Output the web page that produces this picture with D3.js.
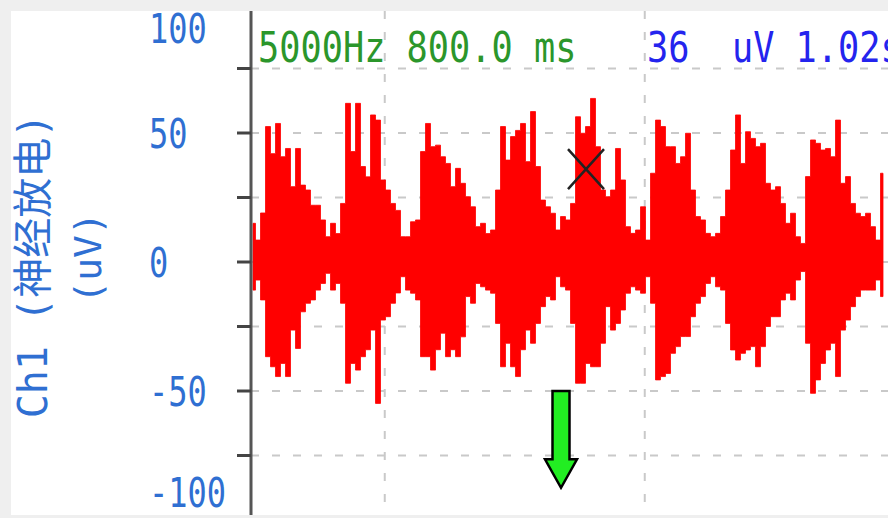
<!DOCTYPE html>
<html>
<head>
<meta charset="utf-8">
<script src="https://cdn.jsdelivr.net/npm/d3@7"></script>
<style>
  html, body { margin: 0; padding: 0; background: #efefef; }
  svg { display: block; }
</style>
</head>
<body>
<div id="chart"></div>
<script>
// ── Data (uV), one upper/lower envelope value per 4 ms ──
const upper = [
  15, 8.5, 19, 52.5, 42, 53.7, 40.8, 44, 29.2, 44, 29.8, 27.9, 22, 22, 16.3, 9.8,
  15, 11, 22.7, 61.5, 42.8, 61.5, 37, 33, 57, 55, 31.8, 27.9, 22.7, 20, 9.8, 9.8,
  15.6, 16.3, 42.8, 53.7, 44.7, 45.3, 40.8, 38.2, 29.2, 36.3, 30.5, 25.3, 21.4, 13.7, 15, 11,
  12.4, 27.9, 52.5, 39.5, 48.6, 51, 53.7, 38.9, 58.3, 37, 24, 21.4, 18.9, 12.4, 17.6,
  16.3, 22.7, 56.3, 49.9, 52.5, 63.4, 44.7, 27.9, 25.3, 27.9, 44, 31.8, 13.7, 11.1, 12.4, 21.4,
  8.5, 34.4, 55, 52.5, 44.7, 44.7, 38.2, 40.8, 49.9, 27.9, 17.6, 16.3, 11.1, 9.8, 11.1, 17.6,
  27.9, 43.4, 57, 38.2, 50.5, 47.9, 44.7, 46, 30.5, 27.9, 29.2, 22.7, 15, 18.9, 9.8, 7.2,
  33.1, 47.3, 46, 43.4, 44, 40.8, 55, 30.5, 33.1, 22.7, 18.9, 17.6, 18.9, 13.7, 8.5, 34.4
];
const lower = [
  -10.9, -7, -14.7, -36.7, -40.6, -44.4, -39.3, -44.4, -26.4, -33.5, -19.3, -16, -14.7, -10.9, -8.3, -4.4,
  -10.9, -8.3, -16, -47, -39.3, -41.9, -36.7, -34, -26.4, -54.8, -22.5, -21.2, -16, -12, -5.7, -10.9,
  -12.1, -14.7, -36.7, -36.7, -41.9, -34, -27.6, -36.7, -34, -36.7, -29, -13.4, -16, -8.3, -9.6, -10.9,
  -12.1, -23.8, -40.6, -31.5, -40.6, -44.4, -34, -26.4, -31.5, -23.8, -17.3, -13.4, -14.7, -5.7, -9.6,
  -10.9, -23.8, -47, -47, -39.3, -40.6, -40.6, -31.5, -17.3, -26.4, -23.8, -18.6, -12.1, -9.6, -10.9, -12.1,
  -5.7, -16, -45.7, -44.4, -43.2, -35.4, -32.8, -28.9, -28.9, -21.2, -16, -13.4, -8.3, -5.7, -9.6, -10.9,
  -23.8, -34.1, -38, -35.4, -34.1, -32.8, -40.6, -32.8, -25, -21.2, -21.2, -14.7, -12.1, -14.7, -7, -3.7,
  -31.5, -50.9, -45.7, -39.3, -34.1, -31.5, -44.4, -26.4, -22.5, -17.3, -13.4, -10.9, -10.9, -10.9, -7, -13.4
];
const tStart = 0.7516;       // s, first sample
const tStep  = 0.004;        // s between samples
const timeDomain = [0.75, 1.26];
const gridTimes  = [0.857, 1.065];
const yTicks     = [-100, -75, -50, -25, 0, 25, 50, 75, 100];
const yGridVals  = [-75, -50, -25, 0, 25, 50, 75];
const yLabelVals = [100, 50, 0, -50, -100];
const cursor     = { t: 1.018, v: 36 };
const arrowMark  = { t: 0.998, top: -50, neck: -76.5, tip: -87.5 };
const headerLeft  = "5000Hz 800.0 ms";
const headerRight = "36  uV 1.02s";
const titleLine1  = "Ch1 (神经放电)";
const titleLine2  = "(uV)";

const W = 888, H = 518;
const panel = { x: 11, y: 11, w: 877, h: 504 };
const axisX = 251;

const samples = upper.map((u, i) => ({ t: tStart + i * tStep, hi: u, lo: lower[i] }));

const svg = d3.select("#chart").append("svg").attr("width", W).attr("height", H);

svg.append("rect").attr("width", W).attr("height", H).attr("fill", "#efefef");
svg.append("rect")
    .attr("x", panel.x).attr("y", panel.y).attr("width", panel.w).attr("height", panel.h)
    .attr("fill", "#fff");

svg.append("clipPath").attr("id", "clip")
  .append("rect")
    .attr("x", axisX).attr("y", panel.y)
    .attr("width", panel.x + panel.w - axisX).attr("height", panel.h);

const x = d3.scaleLinear().domain(timeDomain).range([axisX, 888.5]);
const y = d3.scaleLinear().domain([-100, 100]).range([520, 4]);

const plot = svg.append("g").attr("clip-path", "url(#clip)");

// Grid
plot.append("g").selectAll("line").data(yGridVals).enter().append("line")
    .attr("x1", axisX).attr("x2", W)
    .attr("y1", d => y(d)).attr("y2", d => y(d))
    .attr("stroke", "#c9c9c9").attr("stroke-width", 2).attr("stroke-dasharray", "8,13");
plot.append("g").selectAll("line").data(gridTimes).enter().append("line")
    .attr("x1", d => x(d)).attr("x2", d => x(d))
    .attr("y1", panel.y).attr("y2", panel.y + panel.h)
    .attr("stroke", "#c9c9c9").attr("stroke-width", 2).attr("stroke-dasharray", "8,13");

// Trace
const area = d3.area()
    .x(d => x(d.t))
    .y0(d => y(d.lo))
    .y1(d => y(d.hi))
    .curve(d3.curveStep);
plot.append("path").datum(samples)
    .attr("d", area)
    .attr("fill", "#ff0000").attr("stroke", "#ff0000").attr("stroke-width", 0.8);

// Header readouts
const monoFont = "'DejaVu Sans Mono', 'Liberation Mono', monospace";
svg.append("g").attr("transform", "translate(258,62)")
  .append("text").attr("transform", "scale(0.84,1)")
    .attr("font-family", monoFont).attr("font-size", 42)
    .attr("fill", "#2b962b").text(headerLeft);
svg.append("g").attr("transform", "translate(647,62)")
  .append("text").attr("transform", "scale(0.84,1)")
    .attr("font-family", monoFont).attr("font-size", 42)
    .attr("fill", "#2424ee").style("white-space", "pre").text(headerRight);

// Y axis
svg.append("line")
    .attr("x1", axisX).attr("x2", axisX).attr("y1", panel.y).attr("y2", panel.y + panel.h)
    .attr("stroke", "#555").attr("stroke-width", 3);
svg.append("g").selectAll("line").data(yTicks.filter(v => y(v) > panel.y && y(v) <= panel.y + panel.h + 2))
  .enter().append("line")
    .attr("x1", axisX - 14).attr("x2", axisX)
    .attr("y1", d => y(d)).attr("y2", d => y(d))
    .attr("stroke", "#444").attr("stroke-width", 3);

const labelColor = "#2f6fd2";
svg.append("g").selectAll("g").data(yLabelVals).enter().append("g")
    .attr("transform", d => `translate(149,${Math.max(43, Math.min(507, y(d) + 14.5))})`)
  .append("text")
    .attr("transform", "scale(0.8,1)")
    .attr("font-family", monoFont).attr("font-size", 40)
    .attr("fill", labelColor)
    .text(d => String(d));

// Y title
const titleFont = "'DejaVu Sans Mono', 'Noto Sans CJK SC', monospace";
svg.append("text")
    .attr("transform", "translate(33,266) rotate(-90)")
    .attr("text-anchor", "middle").attr("dominant-baseline", "central")
    .attr("font-family", titleFont).attr("font-size", 40)
    .attr("fill", labelColor).text(titleLine1);
svg.append("text")
    .attr("transform", "translate(88,258) rotate(-90)")
    .attr("text-anchor", "middle").attr("dominant-baseline", "central")
    .attr("font-family", titleFont).attr("font-size", 38)
    .attr("fill", labelColor).text(titleLine2);

// Cursor cross
const cx = x(cursor.t), cy = y(cursor.v);
svg.append("path")
    .attr("d", `M${cx - 18},${cy - 20}L${cx + 18},${cy + 20}M${cx - 18},${cy + 20}L${cx + 18},${cy - 20}`)
    .attr("stroke", "#222").attr("stroke-width", 2.5).attr("fill", "none");

// Green event arrow
const ax = x(arrowMark.t);
const aTop = y(arrowMark.top), aNeck = y(arrowMark.neck), aTip = y(arrowMark.tip);
svg.append("path")
    .attr("d", `M${ax - 8.5},${aTop}L${ax + 8.5},${aTop}L${ax + 8.5},${aNeck}L${ax + 16},${aNeck}` +
               `L${ax},${aTip}L${ax - 16},${aNeck}L${ax - 8.5},${aNeck}Z`)
    .attr("fill", "#22ee22").attr("stroke", "#000").attr("stroke-width", 2.5)
    .attr("stroke-linejoin", "miter");
</script>
</body>
</html>
